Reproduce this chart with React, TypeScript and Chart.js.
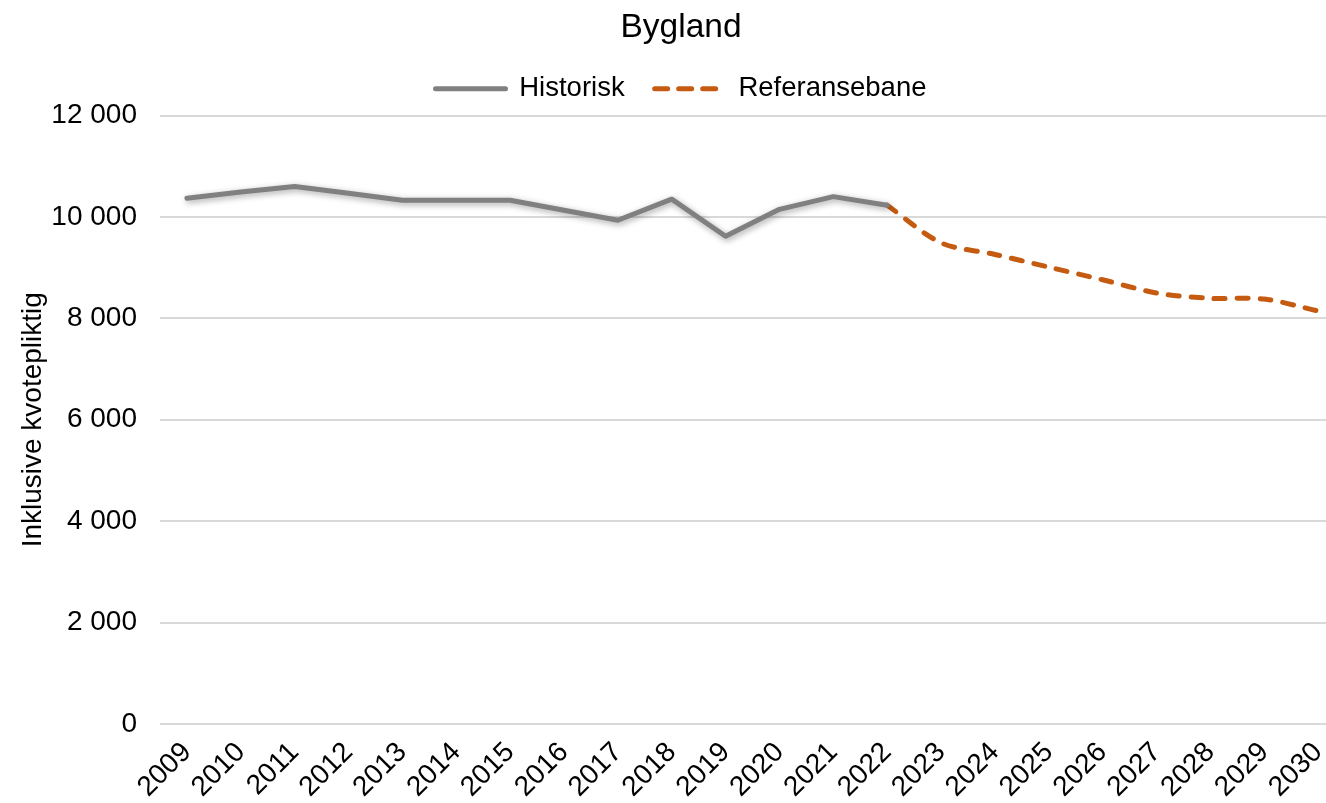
import React, { useEffect, useRef } from "react";
import { Chart, registerables } from "chart.js";

Chart.register(...registerables);

const years = [
  "2009", "2010", "2011", "2012", "2013", "2014", "2015", "2016", "2017", "2018", "2019",
  "2020", "2021", "2022", "2023", "2024", "2025", "2026", "2027", "2028", "2029", "2030",
];

const historisk = [
  10370, 10490, 10600, 10465, 10330, 10330, 10330, 10130, 9935, 10350, 9620,
  10150, 10400, 10230, null, null, null, null, null, null, null, null,
];

const referansebane = [
  null, null, null, null, null, null, null, null, null, null, null,
  null, null, 10230, 9490, 9260, 9010, 8760, 8500, 8395, 8380, 8145,
];

const yTicks = [0, 2000, 4000, 6000, 8000, 10000, 12000];

const FONT = "'Liberation Sans', Arial, sans-serif";
const CANVAS_W = 1362;
const CANVAS_H = 803;
const LEGEND_HEIGHT = 70.5;

const fmt = (v: number) => String(v).replace(/\B(?=(\d{3})+(?!\d))/g, " ");

const legendSpacing = {
  id: "legendSpacing",
  beforeUpdate(chart: any) {
    const lg = chart.legend;
    if (lg && !lg._patched) {
      const fit = lg.fit;
      lg.fit = function () {
        fit.call(this);
        this.height = LEGEND_HEIGHT;
      };
      lg._patched = true;
    }
  },
};

const lineShadow = {
  id: "lineShadow",
  beforeDatasetDraw(chart: any, args: any) {
    if (args.index !== 0) return;
    const ctx = chart.ctx;
    ctx.save();
    ctx.shadowColor = "rgba(0,0,0,0.35)";
    ctx.shadowBlur = 6;
    ctx.shadowOffsetX = 1.5;
    ctx.shadowOffsetY = 2;
  },
  afterDatasetDraw(chart: any, args: any) {
    if (args.index !== 0) return;
    chart.ctx.restore();
  },
};

export default function App() {
  const ref = useRef<HTMLCanvasElement | null>(null);

  useEffect(() => {
    if (!ref.current) return;
    const chart = new Chart(ref.current, {
      type: "line",
      data: {
        labels: years,
        datasets: [
          {
            label: "Historisk",
            data: historisk,
            borderColor: "#808080",
            backgroundColor: "#808080",
            borderWidth: 5,
            pointRadius: 0,
            pointHoverRadius: 0,
            tension: 0,
            borderCapStyle: "round",
            borderJoinStyle: "round",
            spanGaps: false,
          },
          {
            label: "Referansebane",
            data: referansebane,
            borderColor: "#C55A11",
            backgroundColor: "#C55A11",
            borderWidth: 5,
            borderDash: [11, 12],
            borderCapStyle: "round",
            borderJoinStyle: "round",
            pointRadius: 0,
            pointHoverRadius: 0,
            tension: 0.3,
            spanGaps: false,
          },
        ],
      },
      options: {
        responsive: false,
        animation: false,
        layout: { padding: { left: 0, right: 0, top: 0, bottom: 0 } },
        plugins: {
          title: {
            display: true,
            text: "Bygland",
            color: "#000",
            font: { family: FONT, size: 33.5, weight: "normal", lineHeight: 1.0 },
            padding: { top: 11, bottom: 0.5 },
          },
          legend: {
            display: true,
            position: "top",
            labels: {
              color: "#000",
              font: { family: FONT, size: 27.5 },
              usePointStyle: true,
              pointStyle: "line",
              pointStyleWidth: 70,
              padding: 30,
              generateLabels: (chart: any) => {
                const items = Chart.defaults.plugins.legend.labels.generateLabels(chart);
                return items.map((it: any) => {
                  const ds = chart.data.datasets[it.datasetIndex];
                  return {
                    ...it,
                    strokeStyle: ds.borderColor,
                    fillStyle: ds.borderColor,
                    lineWidth: 5,
                    lineCap: "round",
                    lineDash: ds.borderDash ? [13, 11] : [],
                    pointStyle: "line",
                  };
                });
              },
            },
          },
          tooltip: { enabled: false },
        },
        scales: {
          x: {
            type: "category",
            offset: true,
            grid: { display: false, drawTicks: false },
            border: { display: false },
            afterFit: (axis: any) => {
              axis.height = 79;
            },
            ticks: {
              color: "#000",
              font: { family: FONT, size: 28 },
              maxRotation: 45,
              minRotation: 45,
              autoSkip: false,
              padding: 12,
            },
          },
          y: {
            min: 0,
            max: 12000,
            afterBuildTicks: (axis: any) => {
              axis.ticks = yTicks.map((v) => ({ value: v }));
            },
            afterFit: (axis: any) => {
              axis.width = 160;
            },
            grid: { color: "#d9d9d9", lineWidth: 2, drawTicks: false },
            border: { display: false },
            ticks: {
              color: "#000",
              font: { family: FONT, size: 28 },
              padding: 23,
              callback: (v: any) => fmt(Number(v)),
            },
            title: {
              display: true,
              text: "Inklusive kvotepliktig",
              color: "#000",
              font: { family: FONT, size: 28, lineHeight: 1.2 },
              padding: { top: 16, bottom: 4 },
            },
          },
          yRight: {
            position: "right",
            display: true,
            grid: { display: false, drawTicks: false },
            border: { display: false },
            ticks: { display: false },
            afterFit: (axis: any) => {
              axis.width = 17;
            },
          },
        },
      },
      plugins: [legendSpacing, lineShadow],
    });
    return () => chart.destroy();
  }, []);

  return (
    <div
      style={{
        position: "fixed",
        left: 0,
        top: 0,
        width: CANVAS_W,
        height: CANVAS_H,
        background: "#fff",
      }}
    >
      <canvas ref={ref} width={CANVAS_W} height={CANVAS_H} />
    </div>
  );
}
